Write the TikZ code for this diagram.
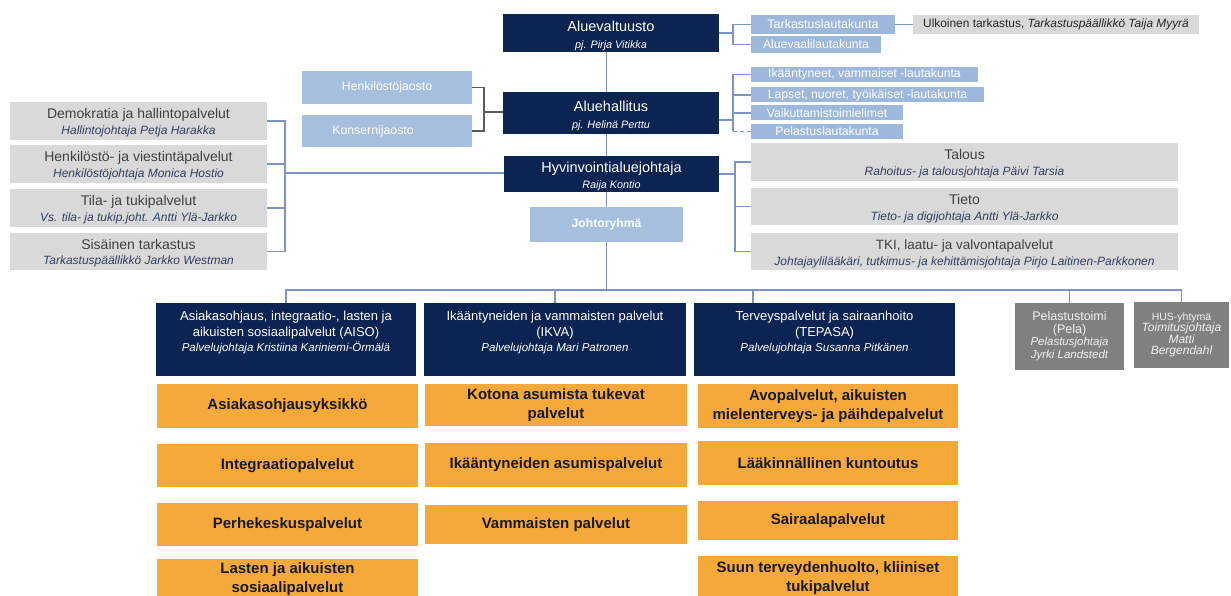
\documentclass[tikz,border=0pt]{standalone}
\usepackage{fontspec}
\setmainfont{Liberation Sans}
\definecolor{cNavy}{HTML}{0C2452}
\definecolor{cLB}{HTML}{A6BFDF}
\definecolor{cLBb}{HTML}{9EB8DC}
\definecolor{cGray}{HTML}{D9D9D9}
\definecolor{cGT}{HTML}{404040}
\definecolor{cSub}{HTML}{2F3F60}
\definecolor{cDG}{HTML}{808080}
\definecolor{cOr}{HTML}{F5A93B}
\definecolor{cLine}{HTML}{7D95C6}
\definecolor{cJL}{HTML}{5A5A5A}
\newcommand\mysub[2]{\fontsize{#1}{#2}\selectfont\itshape}
\begin{document}
\begin{tikzpicture}[x=1pt,y=-1pt,
  box/.style={inner sep=0pt, outer sep=0pt, align=center},
  wh/.style 2 args={minimum width=#1pt, minimum height=#2pt},
  dark/.style={box, fill=cNavy, text=white},
  lblue/.style={box, fill=cLB, text=white},
  lbluetwo/.style={box, fill=cLBb, text=white, font=\fontsize{12.2}{13}\selectfont},
  gbox/.style={box, fill=cGray, text=cGT},
  dgray/.style={box, fill=cDG, text=white!95!black},
  obox/.style={box, fill=cOr, text=black!90, font=\bfseries\fontsize{15}{18.5}\selectfont},
  link/.style={draw=cLine, line width=1.1pt},
  jlink/.style={draw=cJL, line width=1.1pt},
  ttl/.style={font=\fontsize{14.5}{16.5}\selectfont},
  gttl/.style={font=\fontsize{14}{15.5}\selectfont}]
\useasboundingbox (0,0) rectangle (1231,596);
\fill[white] (0,0) rectangle (1231,596);

% --- top chain
\node[dark, wh={216}{38}, ttl] (alv) at (611,33) {\rule{0pt}{16pt}Aluevaltuusto\\\mysub{10.8}{16.5}pj. Pirja Vitikka};
\node[dark, wh={216}{42}, ttl] (alh) at (611,113) {\rule{0pt}{16pt}Aluehallitus\\\mysub{10.8}{16.5}pj. Helinä Perttu};
\node[dark, wh={215}{36}, ttl] (hyv) at (611.5,174) {\rule{0pt}{15pt}Hyvinvointialuejohtaja\\\mysub{10.8}{16.5}Raija Kontio};
\node[lblue, wh={153}{35}, font=\bfseries\fontsize{12.2}{14}\selectfont] (jr) at (606.5,224.5) {Johtoryhmä};

% --- right of Aluevaltuusto
\node[lbluetwo, wh={144}{19}, font=\fontsize{12.5}{13}\selectfont] (tark) at (823,24.5) {Tarkastuslautakunta};
\node[lbluetwo, wh={130}{17}] (aval) at (816,44.5) {Aluevaalilautakunta};
\node[gbox, wh={286}{19}, font=\fontsize{11.9}{13}\selectfont, text=black!85] (ulk) at (1056,24.5) {Ulkoinen tarkastus, \textit{Tarkastuspäällikkö Taija Myyrä}};

% --- jaostot
\node[lblue, wh={170}{33}, font=\fontsize{12.3}{13}\selectfont] (hjao) at (387,87.5) {Henkilöstöjaosto};
\node[lblue, wh={170}{32}, font=\fontsize{12.3}{13}\selectfont] (kjao) at (387,131) {Konsernijaosto\hspace*{28pt}};

% --- lautakunnat
\node[lbluetwo, wh={227}{15}] (lk1) at (864.5,74.5) {Ikääntyneet, vammaiset -lautakunta};
\node[lbluetwo, wh={233}{15}] (lk2) at (867.5,95) {Lapset, nuoret, työikäiset -lautakunta};
\node[lbluetwo, wh={152}{15}] (lk3) at (827,113) {Vaikuttamistoimielimet};
\node[lbluetwo, wh={152}{15}] (lk4) at (827,131.5) {Pelastuslautakunta};

% --- right of Hyvinvointialuejohtaja
\node[gbox, wh={427}{38}, font=\fontsize{14}{16}\selectfont] (tal) at (964.5,162) {\rule{0pt}{14pt}Talous\\\mysub{12}{16}\color{cSub}Rahoitus- ja talousjohtaja Päivi Tarsia};
\node[gbox, wh={427}{37}, font=\fontsize{14}{16}\selectfont] (tie) at (964.5,206.5) {\rule{0pt}{14pt}Tieto\\\mysub{12}{16}\color{cSub}Tieto- ja digijohtaja Antti Ylä-Jarkko};
\node[gbox, wh={427}{37}, font=\fontsize{13.5}{16}\selectfont] (tki) at (964.5,251.5) {\rule{0pt}{14pt}TKI, laatu- ja valvontapalvelut\\\mysub{12}{16}\color{cSub}Johtajaylilääkäri, tutkimus- ja kehittämisjohtaja Pirjo Laitinen-Parkkonen};

% --- left group
\node[gbox, wh={257}{38}, gttl] (dem) at (138.5,121) {\rule{0pt}{13pt}Demokratia ja hallintopalvelut\\\mysub{12}{15.5}\color{cSub}Hallintojohtaja Petja Harakka};
\node[gbox, wh={257}{38}, gttl] (hen) at (138.5,164) {\rule{0pt}{13pt}Henkilöstö- ja viestintäpalvelut\\\mysub{12}{15.5}\color{cSub}Henkilöstöjohtaja Monica Hostio};
\node[gbox, wh={257}{38}, gttl] (tila) at (138.5,208) {\rule{0pt}{13pt}Tila- ja tukipalvelut\\\mysub{12}{15.5}\color{cSub}Vs. tila- ja tukip.joht. Antti Ylä-Jarkko};
\node[gbox, wh={257}{37}, gttl] (sis) at (138.5,251.5) {\rule{0pt}{13pt}Sisäinen tarkastus\\\mysub{12}{15.5}\color{cSub}Tarkastuspäällikkö Jarkko Westman};

% --- service areas
\node[dark, wh={260}{73}, font=\fontsize{13}{15.5}\selectfont] (aiso) at (286,339.5) {Asiakasohjaus, integraatio-, lasten ja\\aikuisten sosiaalipalvelut (AISO)\\\mysub{11.5}{15.5}Palvelujohtaja Kristiina Kariniemi-Örmälä\\\rule{0pt}{6pt}};
\node[dark, wh={262}{73}, font=\fontsize{13}{15.5}\selectfont] (ikva) at (555,339.5) {Ikääntyneiden ja vammaisten palvelut\\(IKVA)\\\mysub{11.5}{15.5}Palvelujohtaja Mari Patronen\hspace*{82pt}\\\rule{0pt}{6pt}};
\node[dark, wh={261}{73}, font=\fontsize{13}{15.5}\selectfont] (tep) at (824.5,339.5) {Terveyspalvelut ja sairaanhoito\\(TEPASA)\\\mysub{11.5}{15.5}Palvelujohtaja Susanna Pitkänen\\\rule{0pt}{6pt}};
\node[dgray, wh={109}{67}, font=\fontsize{12.5}{12.5}\selectfont] (pela) at (1069.5,336) {Pelastustoimi\\(Pela)\\\mysub{11.5}{12.5}Pelastusjohtaja\\\mysub{11.5}{12.5}Jyrki Landstedt};
\node[dgray, wh={95}{66}, font=\fontsize{10.5}{11.2}\selectfont] (hus) at (1181.5,335) {HUS-yhtymä\\\mysub{12}{11.2}Toimitusjohtaja\\\mysub{12}{11.2}Matti\\\mysub{12}{11.2}Bergendahl};

% --- orange units
\node[obox, wh={261}{44}] (o11) at (287.5,406) {Asiakasohjausyksikkö};
\node[obox, wh={261}{43}] (o12) at (287.5,465.5) {Integraatiopalvelut};
\node[obox, wh={261}{43}] (o13) at (287.5,524.5) {Perhekeskuspalvelut};
\node[obox, wh={261}{40}] (o14) at (287.5,579) {Lasten ja aikuisten\\sosiaalipalvelut};
\node[obox, wh={262}{42}] (o21) at (556,405) {Kotona asumista tukevat\\palvelut};
\node[obox, wh={262}{44}] (o22) at (556,465) {Ikääntyneiden asumispalvelut};
\node[obox, wh={262}{39}] (o23) at (556,524.5) {Vammaisten palvelut};
\node[obox, wh={260}{44}] (o31) at (828,406) {Avopalvelut, aikuisten\\mielenterveys- ja päihdepalvelut};
\node[obox, wh={260}{44}] (o32) at (828,463) {Lääkinnällinen kuntoutus};
\node[obox, wh={260}{39}] (o33) at (828,520.5) {Sairaalapalvelut};
\node[obox, wh={260}{44}] (o34) at (828,578) {Suun terveydenhuolto, kliiniset\\tukipalvelut};

% --- coordinates
\coordinate (bus) at (606.5,290);
\coordinate (tepd) at (753,290);
\coordinate (lbx) at (285,173);
\coordinate (rb1) at (733,33);
\coordinate (jb) at (484,112);
\coordinate (rb2) at (733,120);
\coordinate (rb3) at (735,174);

% --- spine
\draw[link] (alv.south -| jr) -- (alh.north -| jr);
\draw[link] (alh.south -| jr) -- (hyv.north -| jr);
\draw[link] (hyv.south -| jr) -- (jr.north);
\draw[link] (jr.south) -- (bus);

% --- bus to service areas
\draw[link] (aiso.north) -- (aiso.north |- bus) -- (hus.north |- bus) -- (hus.north);
\draw[link] (ikva.north |- bus) -- (ikva.north);
\draw[link] (tepd) -- (tepd |- tep.north);
\draw[link] (pela.north |- bus) -- (pela.north);

% --- left group
\draw[link] (dem.east) -- (dem.east -| lbx) -- (sis.east -| lbx) -- (sis.east);
\draw[link] (hen.east) -- (hen.east -| lbx);
\draw[link] (tila.east) -- (tila.east -| lbx);
\draw[link] (lbx) -- (hyv.west |- lbx);

% --- Aluevaltuusto right
\draw[link] (alv.east |- rb1) -- (rb1);
\draw[link] (tark.west) -- (tark.west -| rb1) -- (aval.west -| rb1) -- (aval.west);
\draw[link] (tark.east) -- (ulk.west);

% --- jaostot
\draw[jlink] (hjao.east) -- (hjao.east -| jb) -- (kjao.east -| jb) -- (kjao.east);
\draw[jlink] (jb) -- (alh.west |- jb);

% --- lautakunnat
\draw[link] (alh.east |- rb2) -- (rb2);
\draw[link] (lk1.west) -- (lk1.west -| rb2) -- (lk4.west -| rb2);
\draw[link] (lk2.west) -- (lk2.west -| rb2);
\draw[link] (lk3.west) -- (lk3.west -| rb2);
\draw[link, dash pattern=on 4pt off 3pt] (lk4.west -| rb2) -- (lk4.west);

% --- Hyvinvointialuejohtaja right
\draw[link] (hyv.east |- rb3) -- (rb3);
\draw[link] (tal.west) -- (tal.west -| rb3) -- (tki.west -| rb3) -- (tki.west);
\draw[link] (tie.west) -- (tie.west -| rb3);
\end{tikzpicture}
\end{document}
